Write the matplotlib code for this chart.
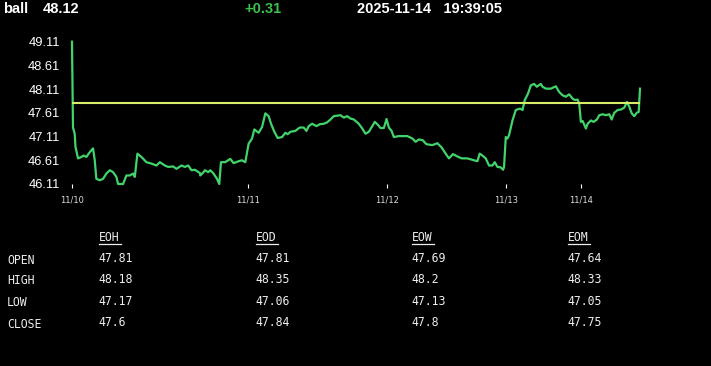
import matplotlib
matplotlib.use("Agg")
import matplotlib.pyplot as plt
from matplotlib.lines import Line2D
import numpy as np

symbol = "ball"
last_price = "48.12"
change = "+0.31"
timestamp = "2025-11-14   19:39:05"

prev_close = 47.81

idx = [0, 1, 2.7, 3.5, 6, 9.3, 11.7, 14.3, 17.7, 21, 22.7, 24.3, 27.7, 31, 34.3, 37.7, 41,
       44.3, 46, 51, 54.3, 57.7, 61, 62.7, 65.3, 69.3, 74.3, 79.3, 84.3, 87.7, 92.7, 96, 101,
       104.3, 109.3, 112.7, 116, 119.3, 122.7, 127.7, 128, 131.3, 132.7, 136, 138, 141.3, 144.7, 147,
       148.7, 153, 158, 161.3, 166.3, 169.7, 173, 176.3, 179.7, 182, 186.3, 189.7, 193, 196.3,
       198.7, 202, 205.3, 209.7, 213, 215.3, 218, 223, 227.3, 231.3, 234, 236.3, 239.7, 244,
       247.3, 251.3, 254.7, 258, 261.3, 268, 271.3, 274.7, 278, 281.3, 286.3, 289.7, 293, 296.3,
       299.7, 302.3, 305.7, 308, 311.3, 314, 316.3, 319, 321.3, 326.3, 334.7, 339.7, 343, 346.3,
       350.3, 353.7, 359.7, 364.7, 369, 373, 376.3, 380.3, 384.7, 389, 394.7, 399.7, 404.7, 407,
       409.7, 413, 416.3, 419.7, 422, 424.7, 428, 430.3, 431.3, 433, 434.7, 436.3, 439.7, 443,
       447.3, 449.7, 452, 455.3, 458, 461.3, 464, 468, 469.7, 473, 478, 483, 486.3, 489.7, 493,
       496.3, 499.7, 502, 504.7, 506.3, 508, 509.7, 513, 514.7, 518, 520.7, 524, 526.3, 529.7,
       533, 536.3, 538.7, 541.3, 544.7, 548, 551.3, 554, 556.3, 558.7, 561.3, 563.7, 565.7, 567]
price = [49.11, 47.30, 47.17, 46.89, 46.65, 46.68, 46.71, 46.68, 46.78, 46.86, 46.61, 46.22, 46.19,
         46.22, 46.33, 46.40, 46.36, 46.26, 46.11, 46.11, 46.29, 46.29, 46.33, 46.26, 46.75, 46.68,
         46.57, 46.54, 46.50, 46.57, 46.50, 46.47, 46.48, 46.43, 46.50, 46.47, 46.50, 46.40, 46.41,
         46.34, 46.29, 46.36, 46.40, 46.36, 46.40, 46.33, 46.22, 46.11, 46.57, 46.57, 46.64, 46.55,
         46.59, 46.61, 46.57, 46.96, 47.07, 47.26, 47.19, 47.31, 47.60, 47.54, 47.38, 47.21, 47.08,
         47.10, 47.19, 47.16, 47.21, 47.23, 47.30, 47.30, 47.23, 47.33, 47.38, 47.33, 47.37, 47.38,
         47.41, 47.47, 47.54, 47.56, 47.51, 47.54, 47.49, 47.47, 47.38, 47.28, 47.17, 47.21, 47.33,
         47.42, 47.35, 47.29, 47.29, 47.48, 47.30, 47.23, 47.10, 47.12, 47.12, 47.07, 47.00, 47.05,
         47.03, 46.95, 46.93, 46.97, 46.88, 46.75, 46.65, 46.74, 46.69, 46.65, 46.65, 46.62, 46.59,
         46.75, 46.71, 46.65, 46.50, 46.50, 46.57, 46.47, 46.46, 46.41, 46.47, 47.10, 47.07, 47.14,
         47.45, 47.67, 47.70, 47.67, 47.88, 48.02, 48.19, 48.22, 48.16, 48.22, 48.16, 48.12, 48.12,
         48.17, 48.05, 47.98, 47.95, 48.00, 47.91, 47.88, 47.89, 47.81, 47.42, 47.44, 47.28, 47.38,
         47.45, 47.42, 47.47, 47.56, 47.58, 47.56, 47.58, 47.47, 47.61, 47.67, 47.68, 47.72, 47.84,
         47.74, 47.60, 47.54, 47.61, 47.63, 48.12]

tick_pos = [0, 175.3, 314.3, 433.3, 508.3]
tick_labels = ["11/10", "11/11", "11/12", "11/13", "11/14"]
ytick_vals = [46.11, 46.61, 47.11, 47.61, 48.11, 48.61, 49.11]

table_cols = ["EOH", "EOD", "EOW", "EOM"]
table_rows = ["OPEN", "HIGH", "LOW", "CLOSE"]
table_vals = [["47.81", "47.81", "47.69", "47.64"],
              ["48.18", "48.35", "48.2", "48.33"],
              ["47.17", "47.06", "47.13", "47.05"],
              ["47.6", "47.84", "47.8", "47.75"]]

W, H = 711, 366
fig = plt.figure(figsize=(W / 100, H / 100), dpi=100, facecolor="black")

def fx(px):
    return px / W

def fy(py):
    return 1 - py / H

ax = fig.add_axes([fx(72), fy(184), fx(640) - fx(72), fy(41.7) - fy(184)])
ax.set_facecolor("black")
ax.plot(idx, price, color="#42d46b", lw=1.6, clip_on=False, solid_joinstyle="round")
ax.axhline(prev_close, color="#d8ec6a", lw=1.5)
ax.set_xlim(0, 567)
ax.set_ylim(46.11, 49.11)
for s in ax.spines.values():
    s.set_visible(False)
ax.set_yticks(ytick_vals)
ax.set_yticklabels([f"{v:.2f}" for v in ytick_vals], family="Liberation Sans", fontsize=9.3, color="white")
ax.tick_params(axis="y", length=0, pad=8.5)
ax.set_xticks(tick_pos)
ax.set_xticklabels(tick_labels, family="DejaVu Sans", fontsize=6, color="#dddddd")
ax.tick_params(axis="x", length=3, width=0.8, color="white", pad=5)

hdr = dict(family="Liberation Sans", fontsize=10.5, fontweight="bold", va="center", ha="left")
fig.text(fx(3), fy(9), symbol, color="white", **hdr)
fig.text(fx(43), fy(9), last_price, color="white", **hdr)
fig.text(fx(244), fy(9), change, color="#3cc24a", **hdr)
fig.text(fx(357), fy(9), timestamp, color="white", **hdr)

mono = dict(family="DejaVu Sans Mono", fontsize=8.3, color="#eeeeee", va="center", ha="left")
col_x = [99, 256, 412, 568]
row_y = [260, 281, 303, 324]
for c, x in zip(table_cols, col_x):
    fig.text(fx(x), fy(238), c, **mono)
    fig.add_artist(Line2D([fx(x), fx(x + 22)], [fy(244), fy(244)], color="#eeeeee", lw=0.9,
                          transform=fig.transFigure))
for r, y in zip(table_rows, row_y):
    fig.text(fx(7), fy(y), r, **mono)
for i, y in enumerate(row_y):
    for j, x in enumerate(col_x):
        fig.text(fx(x - 1), fy(y - 1.5), table_vals[i][j], **mono)

fig.savefig("out.png", dpi=100, facecolor="black")
